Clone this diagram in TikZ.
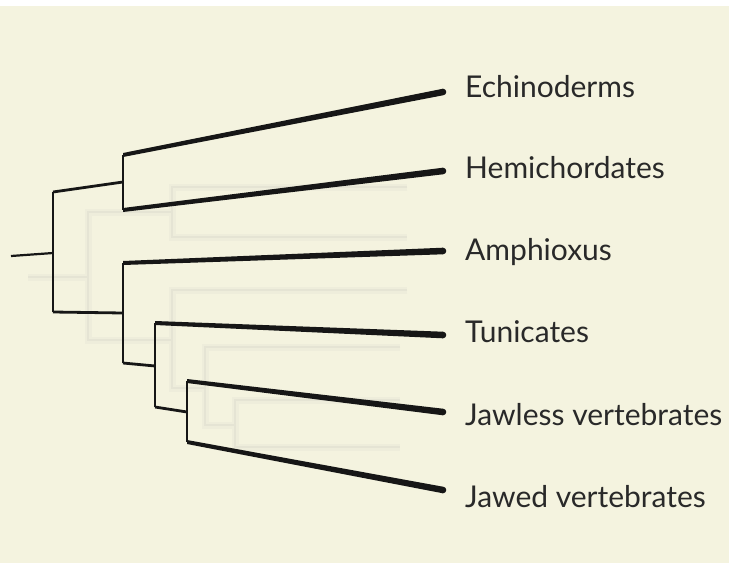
\documentclass[tikz,border=0pt]{standalone}
\usepackage{fontspec}
\setmainfont{Lato}
\usetikzlibrary{calc}
\definecolor{figbg}{RGB}{244,243,223}
\definecolor{figline}{RGB}{22,22,22}
\definecolor{figghost}{RGB}{229,228,212}
\tikzset{
  stem/.style  ={draw=figline, line width=2.8pt, line join=miter},
  ghost/.style ={draw=figghost, line width=2.6pt},
  ghostb/.style={draw=figghost!40!figbg, line width=7pt},
  taxon/.style ={font=\fontsize{30}{32}\selectfont, text=figline!92, anchor=base west, inner sep=0pt},
}
% tapered branch, thin at the fork, thick at the tip
\newcommand{\taper}[2]{%
  \fill[figline] ($(#1)+(0,2)$) -- ($(#2)+(0,3.3)$) -- ($(#2)-(0,3.3)$) -- ($(#1)-(0,2)$) -- cycle;
  \fill[figline] (#2) circle (3.3);
}

\begin{document}
\begin{tikzpicture}[x=1pt,y=-1pt]
  \fill[white] (0,0) rectangle (729,563);
  \fill[figbg] (0,6) rectangle (729,563);
  \useasboundingbox (0,0) rectangle (729,563);
  % faded tree behind
  \foreach \s in {ghostb,ghost}{
    \draw[\s] (28,277) -- (88,277);
    \draw[\s] (172,212) -- (88,212) -- (88,340) -- (172,340);
    \draw[\s] (407,187) -- (172,187) -- (172,237) -- (407,237);
    \draw[\s] (407,290) -- (172,290) -- (172,388) -- (205,388);
    \draw[\s] (400,347) -- (205,347) -- (205,425) -- (235,425);
    \draw[\s] (400,400) -- (235,400) -- (235,447) -- (400,447);
  }
  % forks
  \coordinate (root) at (11,256);
  \coordinate (a) at (53,253);
  \coordinate (a1) at (53,192);
  \coordinate (a2) at (53,312);
  \coordinate (b) at (123,182);
  \coordinate (b1) at (123,155);
  \coordinate (b2) at (123,210);
  \coordinate (c) at (123,313);
  \coordinate (c1) at (123,263);
  \coordinate (c2) at (123,363);
  \coordinate (d) at (155,366);
  \coordinate (d1) at (155,323);
  \coordinate (d2) at (155,407);
  \coordinate (e) at (187,412);
  \coordinate (e1) at (187,381);
  \coordinate (e2) at (187,442);
  % tips
  \coordinate (t1) at (443,92);
  \coordinate (t2) at (443,171);
  \coordinate (t3) at (443,251);
  \coordinate (t4) at (443,335);
  \coordinate (t5) at (443,412);
  \coordinate (t6) at (443,490);
  % labels
  \node[taxon] (echi) at (465,97)  {Echinoderms};
  \node[taxon] (hemi) at (465,178) {Hemichordates};
  \node[taxon] (amph) at (465,260) {Amphioxus};
  \node[taxon] (tuni) at (465,342) {Tunicates};
  \node[taxon] (jawl) at (465,425) {Jawless vertebrates};
  \node[taxon] (jawd) at (465,507) {Jawed vertebrates};
  % tree
  \draw[stem, line width=2.2pt] (root) -- (a);
  \draw[stem] (a1) -- (a2);
  \draw[stem] (a1) -- (b);
  \draw[stem] (a2) -- (c);
  \draw[stem] (b1) -- (b2);
  \draw[stem] (c1) -- (c2);
  \draw[stem] (c2) -- (d);
  \draw[stem] (d1) -- (d2);
  \draw[stem] (d2) -- (e);
  \draw[stem] (e1) -- (e2);
  \taper{b1}{t1}
  \taper{b2}{t2}
  \taper{c1}{t3}
  \taper{d1}{t4}
  \taper{e1}{t5}
  \taper{e2}{t6}
\end{tikzpicture}
\end{document}
